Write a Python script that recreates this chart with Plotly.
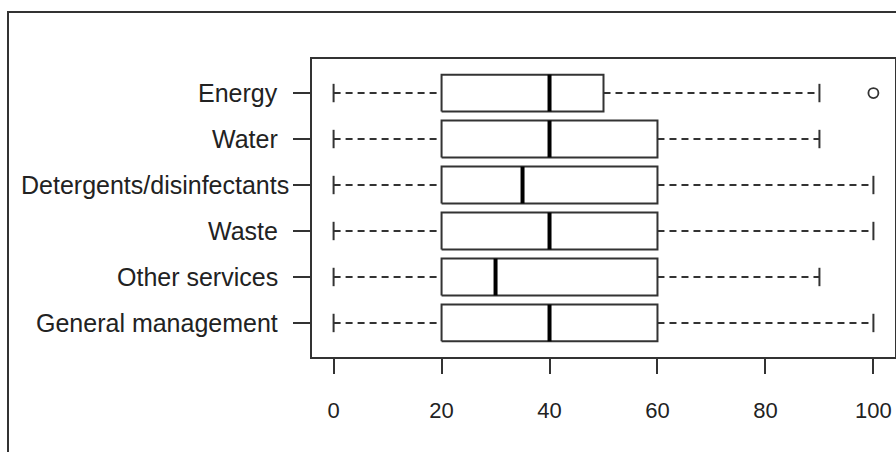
import plotly.graph_objects as go

# Data (bottom-to-top order as in R boxplot: first group at the bottom)
categories = ["General management", "Other services", "Waste",
              "Detergents/disinfectants", "Water", "Energy"]
lower_whisker = [0, 0, 0, 0, 0, 0]
q1 = [20, 20, 20, 20, 20, 20]
median = [40, 30, 40, 35, 40, 40]
q3 = [60, 60, 60, 60, 60, 50]
upper_whisker = [100, 90, 100, 100, 90, 90]
outlier_cat = ["Energy"]
outlier_val = [100]
x_ticks = [0, 20, 40, 60, 80, 100]

LINE = "#333333"
HALF_BOX = 0.4
HALF_CAP = 0.2
DASH = "7px,5px"

fig = go.Figure()
positions = list(range(1, len(categories) + 1))

for p, lo, a, m, b, hi in zip(positions, lower_whisker, q1, median, q3, upper_whisker):
    # whiskers (dashed)
    fig.add_trace(go.Scatter(x=[lo, a], y=[p, p], mode="lines",
                             line=dict(color=LINE, width=2, dash=DASH),
                             hoverinfo="skip", showlegend=False))
    fig.add_trace(go.Scatter(x=[b, hi], y=[p, p], mode="lines",
                             line=dict(color=LINE, width=2, dash=DASH),
                             hoverinfo="skip", showlegend=False))
    # staples
    fig.add_trace(go.Scatter(x=[lo, lo], y=[p - HALF_CAP, p + HALF_CAP], mode="lines",
                             line=dict(color=LINE, width=2),
                             hoverinfo="skip", showlegend=False))
    fig.add_trace(go.Scatter(x=[hi, hi], y=[p - HALF_CAP, p + HALF_CAP], mode="lines",
                             line=dict(color=LINE, width=2),
                             hoverinfo="skip", showlegend=False))
    # box
    fig.add_trace(go.Scatter(x=[a, b, b, a, a],
                             y=[p - HALF_BOX, p - HALF_BOX, p + HALF_BOX, p + HALF_BOX, p - HALF_BOX],
                             mode="lines", fill="toself", fillcolor="white",
                             line=dict(color=LINE, width=2),
                             hoverinfo="skip", showlegend=False))
    # median
    fig.add_trace(go.Scatter(x=[m, m], y=[p - HALF_BOX, p + HALF_BOX], mode="lines",
                             line=dict(color="black", width=4),
                             hoverinfo="skip", showlegend=False))

# outliers
fig.add_trace(go.Scatter(x=outlier_val,
                         y=[positions[categories.index(c)] for c in outlier_cat],
                         mode="markers",
                         marker=dict(symbol="circle-open", size=10, color=LINE,
                                     line=dict(width=1.8, color=LINE)),
                         hoverinfo="skip", showlegend=False))

W, H = 896, 452
L, R, T, B = 312, 1, 59, 95
pw, ph = W - L - R, H - T - B

# outer figure frame (partly beyond the canvas, as in the reference)
fig.add_shape(type="rect", xref="paper", yref="paper",
              x0=(8 - L) / pw, x1=1.2, y0=-0.6, y1=(H - B - 12) / ph,
              line=dict(color=LINE, width=2), fillcolor="rgba(0,0,0,0)", layer="below")

# category labels (right-aligned next to the y ticks)
label_right = {c: 280 for c in categories}
label_right["Detergents/disinfectants"] = 291
for p, c in zip(positions, categories):
    fig.add_annotation(text=c, xref="paper", yref="y",
                       x=(label_right[c] - L) / pw, y=p,
                       xanchor="right", yanchor="middle", showarrow=False,
                       font=dict(family="Liberation Sans, Arial, sans-serif",
                                 size=25, color="#222222"))

fig.update_layout(
    template="none",
    width=W, height=H,
    margin=dict(l=L, r=R, t=T, b=B, pad=0),
    paper_bgcolor="white", plot_bgcolor="white",
    showlegend=False,
    xaxis=dict(range=[-4, 104], tickvals=x_ticks, ticktext=[str(v) for v in x_ticks],
               showgrid=False, zeroline=False, showline=True, mirror=True,
               linecolor=LINE, linewidth=2,
               ticks="outside", ticklen=15, tickwidth=2, tickcolor=LINE,
               ticklabelstandoff=18,
               tickfont=dict(family="Liberation Sans, Arial, sans-serif",
                             size=22, color="#222222"),
               automargin=False, fixedrange=True),
    yaxis=dict(range=[0.26, 6.74], tickvals=positions, showticklabels=False,
               showgrid=False, zeroline=False, showline=True, mirror=True,
               linecolor=LINE, linewidth=2,
               ticks="outside", ticklen=17, tickwidth=2, tickcolor=LINE,
               automargin=False, fixedrange=True),
)

fig.write_html("out.html",
               config={"displayModeBar": False, "staticPlot": True},
               post_script="document.body.style.margin='0';document.body.style.overflow='hidden';")
